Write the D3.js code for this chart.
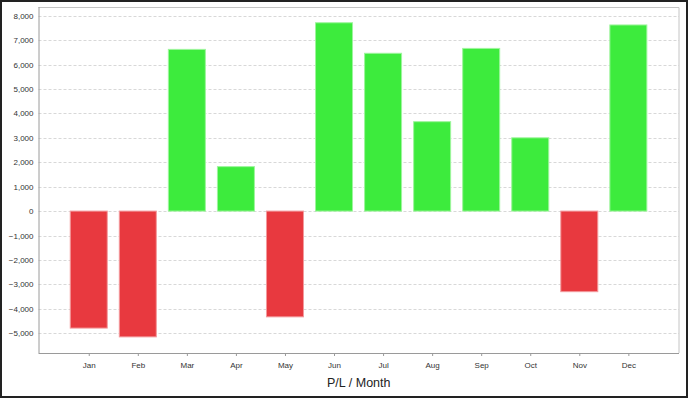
<!DOCTYPE html>
<html>
<head>
<meta charset="utf-8">
<script src="https://cdn.jsdelivr.net/npm/d3@7"></script>
<style>
  body { margin: 0; background: #fff; }
  svg { display: block; font-family: "Liberation Sans", Arial, sans-serif; }
</style>
</head>
<body>
<script>
const months = ['Jan', 'Feb', 'Mar', 'Apr', 'May', 'Jun', 'Jul', 'Aug', 'Sep', 'Oct', 'Nov', 'Dec'];
const profit = [-4790, -5150, 6620, 1820, -4330, 7710, 6460, 3660, 6660, 3000, -3300, 7620];
const yTicks = [-5000, -4000, -3000, -2000, -1000, 0, 1000, 2000, 3000, 4000, 5000, 6000, 7000, 8000];
const axisTitle = 'P/L / Month';

const W = 688, H = 398;
const margin = { top: 7, right: 9, bottom: 45, left: 38.5 };
const width = W - margin.left - margin.right,
      height = H - margin.top - margin.bottom;

const svg = d3.select('body').append('svg').attr('width', W).attr('height', H);

// outer frame
svg.append('rect').attr('x', 1).attr('y', 1).attr('width', W - 2).attr('height', H - 2)
   .attr('fill', '#fff').attr('stroke', '#222').attr('stroke-width', 2);

const g = svg.append('g').attr('transform', `translate(${margin.left}, ${margin.top})`);

const x = d3.scalePoint().domain(months).range([1.2, 638.9]).padding(1);
const y = d3.scaleLinear().domain([-5810, 8355]).range([height, 0]);
const barW = 37;

// grid
g.append('g').selectAll('line').data(yTicks).join('line')
  .attr('x1', 0).attr('x2', width)
  .attr('y1', d => Math.round(y(d)) + 0.5).attr('y2', d => Math.round(y(d)) + 0.5)
  .attr('stroke', '#d8d8d8').attr('stroke-dasharray', '3,2');

// plot frame top/right
g.append('path').attr('d', `M0,0.5H${width}V${height}`)
  .attr('fill', 'none').attr('stroke', '#c4c4c4');

// bars
g.append('g').selectAll('rect').data(profit).join('rect')
  .attr('x', (d, i) => x(months[i]) - barW / 2)
  .attr('y', d => y(Math.max(0, d)))
  .attr('width', barW)
  .attr('height', d => Math.abs(y(d) - y(0)))
  .attr('fill', d => d < 0 ? '#e8393f' : '#3deb3d')
  .attr('stroke', d => d < 0 ? '#f39a9d' : '#9ef59d')
  .attr('stroke-width', 1);

// y axis
const yAxis = d3.axisLeft(y).tickValues(yTicks).tickSize(0).tickPadding(5)
  .tickFormat(d3.format(','));
const ya = g.append('g').call(yAxis);
ya.select('.domain').attr('stroke', '#9a9a9a').attr('d', `M0.5,0V${height}`);
ya.selectAll('text').attr('font-size', 8).attr('fill', '#333');

// x axis
const xAxis = d3.axisBottom(x).tickSize(3).tickPadding(6);
const xa = g.append('g').attr('transform', `translate(0, ${height})`).call(xAxis);
xa.select('.domain').attr('stroke', '#9a9a9a').attr('d', `M0,0.5H${width}`);
xa.selectAll('line').attr('stroke', '#9a9a9a');
xa.selectAll('text').attr('font-size', 8).attr('fill', '#333');

svg.append('text').attr('x', margin.left + width / 2).attr('y', 387)
  .attr('text-anchor', 'middle').attr('font-size', 12.5).attr('fill', '#222')
  .text(axisTitle);
</script>
</body>
</html>
